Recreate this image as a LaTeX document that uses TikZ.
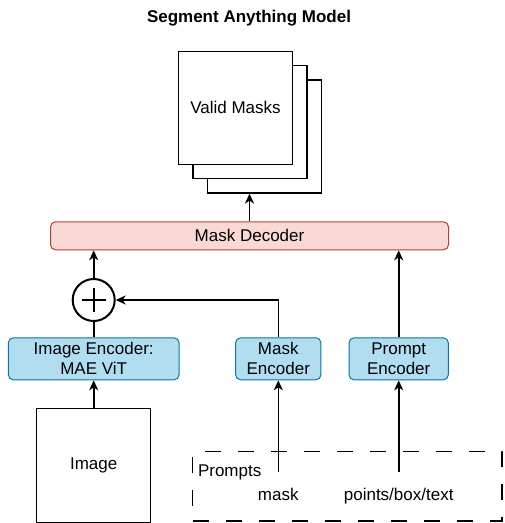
\documentclass[tikz,border=0pt]{standalone}
\usepackage{fontspec}
\setmainfont{Liberation Sans}
\usepackage{xcolor}
\definecolor{ink}{HTML}{000000}
\definecolor{encfill}{HTML}{B1DDF0}
\definecolor{encline}{HTML}{10739E}
\definecolor{decfill}{HTML}{FAD9D5}
\definecolor{decline}{HTML}{AE4132}
\usepackage{tikz}
\usetikzlibrary{arrows.meta, positioning, calc}
\tikzset{
  >={Stealth[length=10pt, width=9pt, inset=3pt]},
  txt/.style={font={\fontsize{17}{20}\selectfont}, text=ink},
  box/.style={draw, txt, align=center, inner sep=0pt, line width=1pt},
  sheet/.style={box, fill=white, line width=1.2pt, minimum width=114pt, minimum height=113pt},
  enc/.style={box, rounded corners=5pt, draw=encline, fill=encfill, minimum height=42pt},
  dec/.style={box, rounded corners=5pt, draw=decline, fill=decfill, minimum height=28pt},
  flow/.style={->, line width=1.6pt, color=ink},
  wire/.style={line width=1.6pt, color=ink},
}

\begin{document}
\begin{tikzpicture}[x=1pt, y=-1pt,
    sum/.style={circle, draw=ink, line width=2pt, minimum size=42pt, inner sep=0pt},
    group/.style={draw=ink, line width=1.2pt, dash pattern=on 16pt off 17pt}]

  \useasboundingbox (0,0) rectangle (505,523);

  \node[txt, font={\bfseries\fontsize{17}{20}\selectfont}, anchor=base] (title) at (249,22.5)
    {Segment Anything Model};

  % The output masks, stacked back to front.
  \node[sheet] (masks3) at (264.5,136.5) {};
  \node[sheet] (masks2) at (250,122) {};
  \node[sheet] (masks)  at (235.5,107.7) {Valid Masks};

  \node[dec, minimum width=398pt] (dec) at (249.5,235.8) {Mask Decoder};

  % Image and mask embeddings are summed.
  \node[sum] (plus) at (93.7,300) {};
  \draw[line width=2.4pt] ($(plus.center)+(-12,0)$) -- ($(plus.center)+(12,0)$);
  \draw[line width=2.4pt] ($(plus.center)+(0,-12)$) -- ($(plus.center)+(0,12)$);

  \node[enc, minimum width=170.7pt] (imgenc)    at (93.7,358.8)  {Image Encoder:\\MAE ViT};
  \node[enc, minimum width=85.3pt]  (maskenc)   at (278.3,358.8) {Mask\\Encoder};
  \node[enc, minimum width=99.3pt]  (promptenc) at (398.7,358.8) {Prompt\\Encoder};

  \node[sheet, minimum height=114pt] (image) at (93.7,465.3) {Image};

  % The prompts, in a dashed group.
  \node[group, minimum width=309.3pt, minimum height=69.3pt, inner sep=0pt] (prompts) at (347.4,486.4) {};
  \node[txt, anchor=base west] (promptslbl) at (194.5,476) {Prompts};
  \node[txt, anchor=base] (masklbl)   at (278.3,500.5) {mask};
  \node[txt, anchor=base] (pointslbl) at (398.7,500.5) {points/box/text};
  \coordinate (maskin)   at (278.3,472);
  \coordinate (pointsin) at (398.7,472);

  \draw[flow] (maskin) -- (maskenc.south);
  \draw[flow] (pointsin) -- (promptenc.south);
  \draw[flow] (image.north) -- (imgenc.south);
  \draw[wire] (imgenc.north) -- (plus.south);
  \draw[flow] (maskenc.north) |- (plus.east);
  \draw[flow] (plus.north) -- (plus.north |- dec.south);
  \draw[flow] (promptenc.north) -- (promptenc.north |- dec.south);
  \draw[flow] (dec.north) -- (dec.north |- masks3.south);
\end{tikzpicture}
\end{document}
